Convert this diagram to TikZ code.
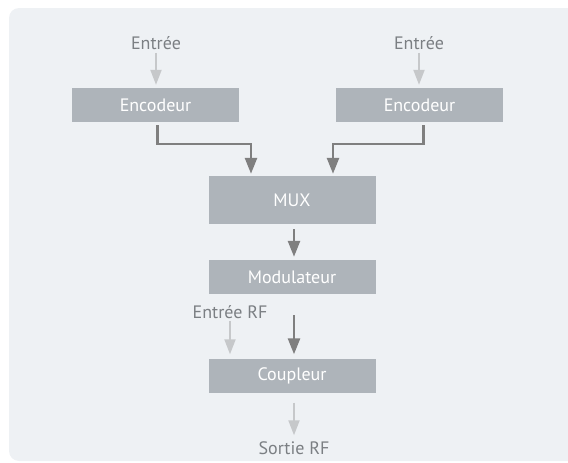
\documentclass[tikz,border=0pt]{standalone}
\usepackage{fontspec}
\setmainfont{PT Sans}
\usetikzlibrary{arrows.meta}
\usetikzlibrary{positioning}
\definecolor{bgpanel}{HTML}{EEF1F4}
\definecolor{boxfill}{HTML}{AEB4BA}
\definecolor{darkarr}{HTML}{7F7F7F}
\definecolor{lightarr}{HTML}{C6C8CA}
\definecolor{labelgrey}{HTML}{7B7F83}

\tikzset{
  block/.style={fill=boxfill, text=white, minimum width=167pt, minimum height=34pt, inner sep=0pt, font=\fontsize{18}{20}\selectfont},
  tag/.style={text=labelgrey, inner sep=1pt, font=\fontsize{18}{20}\selectfont},
  darkflow/.style={darkarr, line width=2.6pt, -{Triangle[width=12pt,length=16pt]}},
  lightflow/.style={lightarr, line width=2pt, -{Triangle[width=11pt,length=15pt]}}
}

\begin{document}
\begin{tikzpicture}[x=1pt, y=-1pt]
    \useasboundingbox (0, 0) rectangle (568, 463);
    \fill [bgpanel, rounded corners=10pt] (9, 8) rectangle (600, 461);

    \node [block] (enc1) at (155.5, 105) {Encodeur};
    \node [block] (enc2) at (419.5, 105) {Encodeur};
    \node [block, minimum height=48pt] (mux) at (292, 200) {MUX};
    \node [block] (mod) at (292, 277) {Modulateur};
    \node [block] (coup) at (292, 375.5) {Coupleur};

    \node [tag] (in1) at (156, 43) {Entrée};
    \node [tag] (in2) at (419, 43) {Entrée};
    \node [tag] (inrf) at (230, 312) {Entrée RF};
    \node [tag] (outrf) at (294, 448) {Sortie RF};

    \coordinate (j1) at (251, 144);
    \coordinate (j2) at (333, 144);

    %inputs
    \draw [lightflow, shorten <=2pt, shorten >=3pt] (in1.south) -- (in1.south |- enc1.north);
    \draw [lightflow, shorten <=2pt, shorten >=3pt] (in2.south) -- (in2.south |- enc2.north);

    \draw [darkflow, shorten <=3pt, shorten >=2pt] ([xshift=2pt]enc1.south) |- (j1) -- (j1 |- mux.north);
    \draw [darkflow, shorten <=3pt, shorten >=2pt] ([xshift=4pt]enc2.south) |- (j2) -- (j2 |- mux.north);

    \draw [darkflow, shorten <=5pt, shorten >=3pt] ([xshift=2pt]mux.south) -- ([xshift=2pt]mod.north);
    \draw [darkflow, shorten <=21pt, shorten >=4pt] ([xshift=2pt]mod.south) -- ([xshift=2pt]coup.north);
    \draw [lightflow, shorten <=1pt, shorten >=4pt] (inrf.south) -- (inrf.south |- coup.north);

    \draw [lightflow, shorten <=10pt, shorten >=5pt] ([xshift=2pt]coup.south) -- (outrf.north); % RF out
\end{tikzpicture}
\end{document}
